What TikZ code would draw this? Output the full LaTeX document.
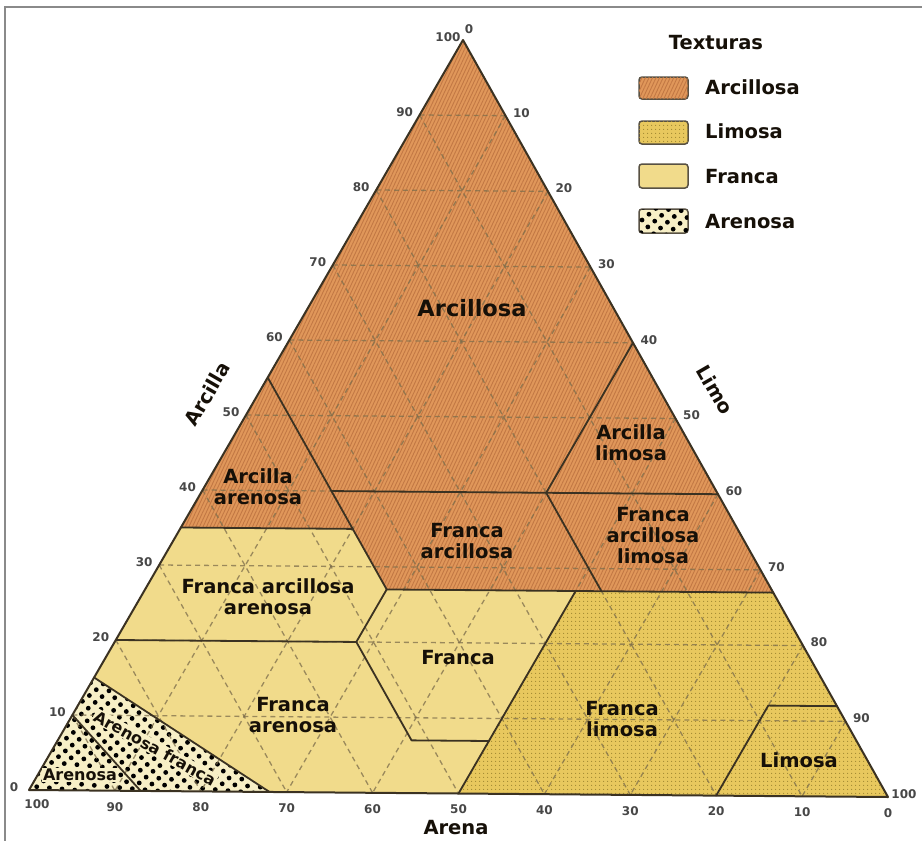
\documentclass[tikz,border=0pt]{standalone}
\usepackage{fontspec}
\setmainfont{DejaVu Sans}
\usetikzlibrary{patterns.meta}
\definecolor{orangeA}{HTML}{E0975A}
\definecolor{orangeH}{HTML}{C27844}
\definecolor{yelF}{HTML}{F1DB8B}
\definecolor{yelL}{HTML}{E8C85E}
\definecolor{dotL}{HTML}{A08832}
\definecolor{creamA}{HTML}{F7EFC6}
\definecolor{bnd}{HTML}{3B3222}
\definecolor{gridc}{HTML}{7D6E4C}
\definecolor{framec}{HTML}{8A8A8A}
\definecolor{txt}{HTML}{161008}
\newcommand\defpt[4]{%
  \pgfmathsetmacro\wC{#2/100}\pgfmathsetmacro\wL{#3/100}\pgfmathsetmacro\wS{#4/100}%
  \coordinate (#1) at (barycentric cs:vC=\wC,vL=\wL,vS=\wS);}
\begin{document}
\begin{tikzpicture}[x=1pt,y=-1pt,
  bound/.style={draw=bnd, line width=1.8pt, line join=round, line cap=round},
  gridl/.style={draw=gridc, dash pattern=on 5pt off 4pt, line width=1.3pt, opacity=0.75},
  lab/.style={font=\bfseries\fontsize{19.5}{21}\selectfont, text=txt, align=center, inner sep=0pt},
  smalllab/.style={font=\bfseries\fontsize{16}{17}\selectfont, text=txt, align=center, inner sep=1pt, fill=creamA},
  ticklab/.style={font=\bfseries\fontsize{12}{12}\selectfont, text=black!72, inner sep=0pt},
  swatch/.style={draw=bnd!85, line width=1.5pt, rounded corners=3pt},
  orangefill/.style={fill=orangeA, postaction={pattern={Lines[angle=65,distance=3.2pt,line width=0.9pt]}, pattern color=orangeH}},
  limofill/.style={fill=yelL, postaction={pattern={Dots[distance=4pt,radius=0.7pt]}, pattern color=dotL}},
  francafill/.style={fill=yelF},
  arenafill/.style={fill=creamA, postaction={pattern={Dots[distance=9pt,radius=2.4pt,angle=40]}, pattern color=black}}
]
\useasboundingbox (0,0) rectangle (922,841);
\fill[white] (0,0) rectangle (922,841);
% frame
\draw[framec, line width=2pt] (5,841) -- (5,7) -- (922,7);

% vertices
\coordinate (vS) at (29,790);
\coordinate (vL) at (888,797);
\coordinate (vC) at (463,40);

\defpt{p2}{60}{40}{0}
\defpt{p3}{40}{60}{0}
\defpt{p4}{40}{40}{20}
\defpt{p5}{40}{15}{45}
\defpt{p6}{55}{0}{45}
\defpt{p7}{35}{0}{65}
\defpt{p8}{35}{20}{45}
\defpt{p9}{27}{28}{45}
\defpt{p10}{27}{53}{20}
\defpt{p11}{27}{73}{0}
\defpt{p12}{20}{28}{52}
\defpt{p13}{20}{0}{80}
\defpt{p14}{27}{50}{23}
\defpt{p15}{7}{50}{43}
\defpt{p16}{7}{41}{52}
\defpt{p17}{0}{50}{50}
\defpt{p18}{12}{88}{0}
\defpt{p19}{12}{80}{8}
\defpt{p20}{0}{80}{20}
\defpt{p21}{15}{0}{85}
\defpt{p22}{0}{28}{72}
\defpt{p23}{10}{0}{90}
\defpt{p24}{0}{13}{87}

% fills
\path[orangefill] (vC) -- (p11) -- (p9) -- (p8) -- (p7) -- cycle;
\path[francafill] (p7) -- (p8) -- (p9) -- (p14) -- (p17) -- (p22) -- (p21) -- cycle;
\path[limofill] (p14) -- (p11) -- (vL) -- (p17) -- cycle;
\path[arenafill] (p21) -- (p22) -- (vS) -- cycle;

% grid
\foreach \k in {10,20,...,90}{
  \pgfmathsetmacro\m{(100-\k)/100}
  \pgfmathsetmacro\kk{\k/100}
  \draw[gridl] (barycentric cs:vS=\m,vC=\kk) -- (barycentric cs:vL=\m,vC=\kk);
  \draw[gridl] (barycentric cs:vS=\kk,vC=\m) -- (barycentric cs:vS=\kk,vL=\m);
  \draw[gridl] (barycentric cs:vL=\kk,vC=\m) -- (barycentric cs:vL=\kk,vS=\m);
}

% boundaries
\draw[bound] (p2) -- (p4) -- (p10);
\draw[bound] (p5) -- (p3);
\draw[bound] (p6) -- (p9);
\draw[bound] (p7) -- (p8);
\draw[bound] (p9) -- (p11);
\draw[bound] (p13) -- (p12);
\draw[bound] (p9) -- (p12) -- (p16) -- (p15);
\draw[bound] (p14) -- (p17);
\draw[bound] (p18) -- (p19) -- (p20);
\draw[bound] (p21) -- (p22);
\draw[bound] (p23) -- (p24);
\draw[bound, line width=2pt] (vS) -- (vL) -- (vC) -- cycle;

% tick labels
\foreach \k in {0,10,...,100}{
  \pgfmathsetmacro\m{(100-\k)/100}
  \pgfmathsetmacro\kk{\k/100}
  \node[ticklab] (tl\k) at ([shift={(-15,-3)}]barycentric cs:vS=\m,vC=\kk) {\k};
}
\foreach \k in {10,20,...,100}{
  \pgfmathsetmacro\m{(100-\k)/100}
  \pgfmathsetmacro\kk{\k/100}
  \node[ticklab] (tr\k) at ([shift={(16,-3)}]barycentric cs:vL=\kk,vC=\m) {\k};
}
\node[ticklab] (tr0) at ([shift={(6,-11)}]vC) {0};
\foreach \k in {0,10,...,90}{
  \pgfmathsetmacro\m{(100-\k)/100}
  \pgfmathsetmacro\kk{\k/100}
  \node[ticklab] (tb\k) at ([shift={(0,16)}]barycentric cs:vS=\kk,vL=\m) {\k};
}
\node[ticklab] (tb100) at ([shift={(8,14)}]vS) {100};

% axis labels
\node[lab, rotate=60] (axC) at (207,394) {Arcilla};
\node[lab, rotate=-60] (axL) at (715,390) {Limo};
\node[lab] (axS) at (456,828) {Arena};

% region labels
\node[lab, font=\bfseries\fontsize{22.5}{24}\selectfont] (rA) at (472,308) {Arcillosa};
\node[lab] (rAA) at (258,487) {Arcilla\\arenosa};
\node[lab] (rAL) at (631,443) {Arcilla\\limosa};
\node[lab] (rFAL) at (653,536) {Franca\\arcillosa\\limosa};
\node[lab] (rFA) at (467,541) {Franca\\arcillosa};
\node[lab] (rFAA) at (268,597) {Franca arcillosa\\arenosa};
\node[lab] (rF) at (458,658) {Franca};
\node[lab] (rFAr) at (293,715) {Franca\\arenosa};
\node[lab] (rFL) at (622,719) {Franca\\limosa};
\node[lab] (rL) at (799,760) {Limosa};
\node[smalllab, rotate=-29] (rArF) at (155,748) {Arenosa franca};
\node[smalllab] (rAr) at (80,775) {Arenosa};

% legend
\node[lab] (leg) at (716,43) {Texturas};
\path[swatch, orangefill] (639,77) rectangle (688,99);
\path[swatch, limofill] (639,121) rectangle (688,144);
\path[swatch, francafill] (639,164) rectangle (688,188);
\path[swatch, arenafill] (639,209) rectangle (688,233);
\node[lab, anchor=west] (l1) at (705,87) {Arcillosa};
\node[lab, anchor=west] (l2) at (705,131) {Limosa};
\node[lab, anchor=west] (l3) at (705,177) {Franca};
\node[lab, anchor=west] (l4) at (705,222) {Arenosa};
\end{tikzpicture}
\end{document}
